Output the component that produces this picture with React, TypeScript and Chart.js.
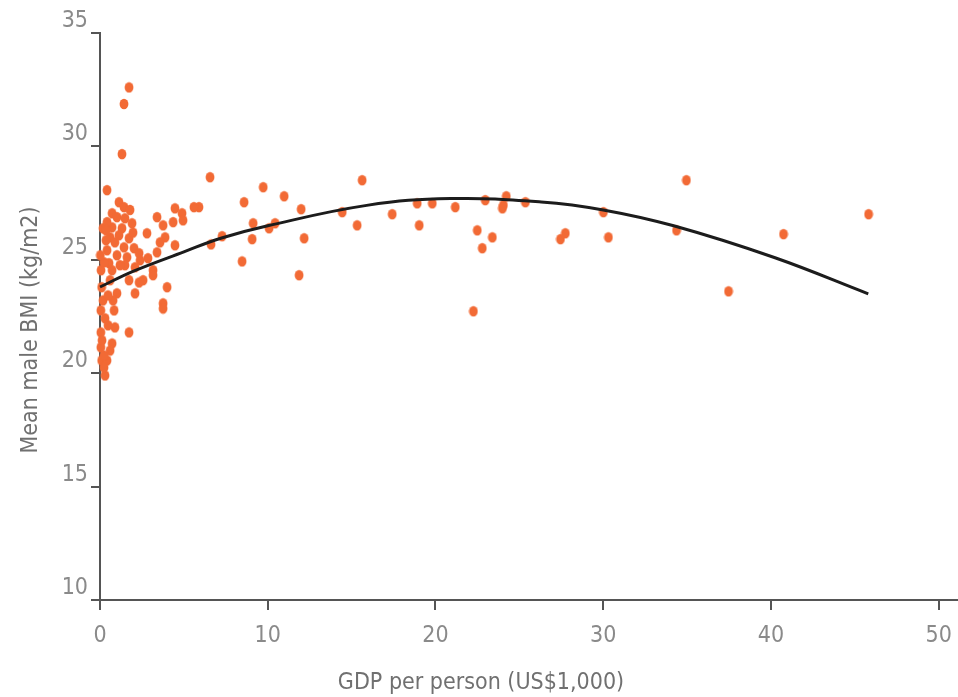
import React, { useEffect, useRef } from "react";
import { Chart, registerables } from "chart.js";

Chart.register(...registerables);

// Fitted curve
const curveX = [0, 2, 5, 7.2, 10, 15.9, 20.9, 26.3, 30, 34.2, 40.2, 45.8];
const curveY = [23.8, 24.5, 25.35, 25.95, 26.5, 27.4, 27.7, 27.55, 27.2, 26.5, 25.1, 23.5];

// Country points: GDP per person (US$1,000)
const gdpValues = [
  1.73, 1.43, 1.31, 0.42,
  6.56, 8.59, 9.73, 10.98, 11.99, 9.13, 9.07, 10.08, 10.44, 12.17, 8.47, 11.87,
  15.63, 14.44, 15.33, 17.42, 19.03, 18.91, 19.81, 21.18, 22.26, 22.49, 22.79, 23.39, 22.97, 24.22, 23.99, 24.05, 25.36,
  6.62, 7.28, 5.9, 5.6,
  27.45, 27.74, 30.01, 30.31, 34.37, 34.96, 37.47, 40.75, 45.82,
  4.47, 4.89, 4.95, 4.36, 3.4, 3.76, 2.8, 3.88, 3.58, 4.47, 3.4, 2.86, 2.39, 3.16, 3.16, 2.57, 4.0, 3.76, 3.76,
  1.13, 1.43, 0.72, 1.01, 1.49, 1.91, 0.72, 1.31, 1.13, 0.6, 1.73, 0.89, 1.43, 2.03, 0.42, 1.01, 1.61, 2.33, 0.54, 1.49, 2.09,
  0.1, 0.05, 0.05, 0.05, 0.1, 0.3, 0.6, 1.01, 1.73, 2.33, 2.09, 0.84, 0.89, 0.72, 0.42, 1.73, 0.24,
  0.06, 0.18, 0.3, 0.48, 0.12, 0.6, 0.24, 0.78, 0.48, 0.72, 0.24, 0.02, 0.36, 0.18, 1.19, 0.42, 0.36, 1.79, 1.97,
];

// Mean male BMI (kg/m2)
const bmiValues = [
  32.6, 31.87, 29.66, 28.07,
  28.64, 27.54, 28.2, 27.8, 27.23, 26.61, 25.91, 26.39, 26.61, 25.95, 24.93, 24.32,
  28.51, 27.1, 26.52, 27.01, 26.52, 27.49, 27.49, 27.32, 22.73, 26.3, 25.51, 25.99, 27.63, 27.8, 27.27, 27.41, 27.54,
  25.68, 26.04, 27.32, 27.32,
  25.91, 26.17, 27.1, 25.99, 26.3, 28.51, 23.61, 26.13, 27.01,
  27.27, 27.05, 26.74, 26.66, 26.88, 26.52, 26.17, 25.99, 25.77, 25.64, 25.33, 25.07, 24.98, 24.54, 24.32, 24.1, 23.79, 23.08, 22.85,
  27.54, 27.32, 27.05, 26.88, 26.83, 26.61, 26.43, 26.39, 26.08, 25.99, 25.95, 25.77, 25.55, 25.51, 25.42, 25.2, 25.11, 25.29, 24.85, 24.76, 24.67,
  23.79, 22.77, 21.8, 21.14, 20.56, 19.9, 24.1, 23.52, 24.1, 24.0, 23.52, 22.77, 22.02, 21.31, 20.56, 21.8, 20.25,
  24.54, 23.21, 22.42, 22.11, 21.45, 21.0, 20.78, 23.21, 23.43, 24.54, 24.89, 25.2, 25.86, 26.39, 24.76, 26.66, 26.3, 27.2, 26.2,
];

const xTicks = [0, 10, 20, 30, 40, 50];
const yTicks = [10, 15, 20, 25, 30, 35];

const xTitle = "GDP per person (US$1,000)";
const yTitle = "Mean male BMI (kg/m2)";

const FONT = "'Liberation Sans Narrow', 'DejaVu Sans Condensed', 'Arial Narrow', sans-serif";

function makeDot(): HTMLCanvasElement {
  const c = document.createElement("canvas");
  c.width = 10;
  c.height = 12;
  const g = c.getContext("2d")!;
  g.fillStyle = "#f26a35";
  g.beginPath();
  g.ellipse(5, 6, 4.4, 5.3, 0, 0, Math.PI * 2);
  g.fill();
  return c;
}

const titlesPlugin = {
  id: "axisTitles",
  afterDraw(chart: any) {
    const { ctx, chartArea } = chart;
    ctx.save();
    ctx.fillStyle = "#707070";
    ctx.font = `23px ${FONT}`;
    ctx.textAlign = "center";
    ctx.textBaseline = "middle";
    ctx.fillText(xTitle, chartArea.left + 381, chartArea.bottom + 83);
    ctx.translate(chartArea.left - 69, chartArea.top + 297);
    ctx.rotate(-Math.PI / 2);
    ctx.fillText(yTitle, 0, 0);
    ctx.restore();
  },
};

const CANVAS_W = 964;
const CANVAS_H = 697;

export default function App() {
  const ref = useRef<HTMLCanvasElement | null>(null);

  useEffect(() => {
    document.body.style.margin = "0";
    const dot = makeDot();
    const scatterData = gdpValues.map((x, i) => ({ x, y: bmiValues[i] }));
    const curveData = curveX.map((x, i) => ({ x, y: curveY[i] }));
    const axisColor = "#555555";

    const chart = new Chart(ref.current!, {
      type: "scatter",
      data: {
        datasets: [
          {
            label: "fit",
            data: curveData,
            showLine: true,
            borderColor: "#1c1c1c",
            borderWidth: 3,
            pointRadius: 0,
            tension: 0.4,
            clip: false,
          } as any,
          {
            label: "countries",
            data: scatterData,
            pointStyle: dot as any,
            pointRadius: 5,
            backgroundColor: "#f26a35",
            borderWidth: 0,
            clip: false,
          } as any,
        ],
      },
      options: {
        animation: false,
        responsive: false,
        maintainAspectRatio: false,
        layout: { padding: { top: 33, left: 0, right: 0, bottom: 0 } },
        plugins: { legend: { display: false }, tooltip: { enabled: false } },
        scales: {
          x: {
            type: "linear",
            min: 0,
            max: 51.2,
            afterBuildTicks: (scale: any) => {
              scale.ticks = xTicks.map((v) => ({ value: v }));
            },
            afterFit: (scale: any) => {
              scale.height = 97;
            },
            ticks: {
              color: "#8a8a8a",
              font: { family: FONT, size: 23 },
              padding: 12,
              maxRotation: 0,
            },
            grid: {
              drawOnChartArea: false,
              drawTicks: true,
              tickLength: 10,
              color: axisColor,
              lineWidth: 2,
            },
            border: { display: true, color: axisColor, width: 2 },
          },
          y: {
            type: "linear",
            min: 10,
            max: 35,
            afterBuildTicks: (scale: any) => {
              scale.ticks = yTicks.map((v) => ({ value: v }));
            },
            afterFit: (scale: any) => {
              scale.width = 100;
            },
            ticks: {
              color: "#8a8a8a",
              font: { family: FONT, size: 23 },
              padding: 3,
              labelOffset: -12,
            },
            grid: {
              drawOnChartArea: false,
              drawTicks: true,
              tickLength: 9,
              color: axisColor,
              lineWidth: 2,
            },
            border: { display: true, color: axisColor, width: 2 },
          },
        },
      },
      plugins: [titlesPlugin],
    });
    return () => chart.destroy();
  }, []);

  return (
    <div style={{ position: "absolute", left: 0, top: 0, width: 958, height: 697, overflow: "hidden", background: "#fff" }}>
      <canvas ref={ref} width={CANVAS_W} height={CANVAS_H} style={{ width: CANVAS_W, height: CANVAS_H, display: "block" }} />
    </div>
  );
}
